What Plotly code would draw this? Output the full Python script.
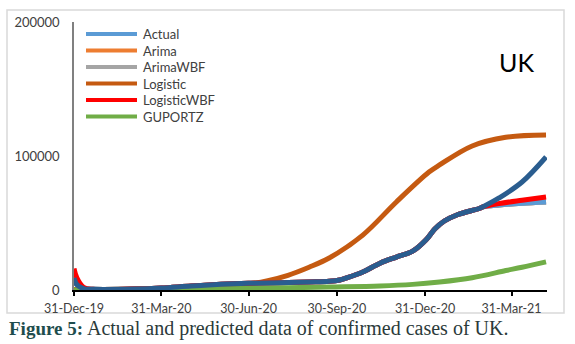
import plotly.graph_objects as go

# ---- data ----
dates_main = ["2019-12-31", "2020-01-03", "2020-01-10", "2020-01-20", "2020-03-01", "2020-03-31",
              "2020-05-01", "2020-06-01", "2020-06-30", "2020-08-01", "2020-09-01", "2020-09-22",
              "2020-10-03", "2020-10-10", "2020-10-27", "2020-11-14", "2020-12-01", "2020-12-18",
              "2021-01-01", "2021-01-10", "2021-01-20", "2021-02-02", "2021-02-26", "2021-03-01",
              "2021-03-18", "2021-04-11", "2021-05-06"]
actual_dark = [9000, 4000, 1000, 500, 700, 1500,
               3000, 4200, 5000, 5500, 6000, 6500,
               7500, 9000, 13400, 20000, 24600, 29000,
               37500, 45500, 51500, 56000, 61000, 62000,
               68700, 80600, 99300]
actual = [8000, 4000, 1000, 500, 700, 1500,
          3000, 4200, 5000, 5500, 6000, 6500,
          7500, 9000, 13400, 20000, 24600, 29000,
          37500, 45500, 51500, 56000, 61000, 62000,
          63500, 64800, 65700]
arima = actual
arima_wbf = actual
logistic_wbf = [16000, 9000, 2000, 500, 700, 1500,
                3000, 4200, 5000, 5500, 6000, 6500,
                7500, 9000, 13400, 20000, 24600, 29000,
                37500, 45500, 51500, 56000, 61000, 62000,
                64500, 67000, 69400]

dates_log = ["2019-12-31", "2020-03-31", "2020-06-01", "2020-06-30", "2020-07-20", "2020-08-10",
             "2020-09-01", "2020-09-22", "2020-10-27", "2020-12-01", "2021-01-04",
             "2021-01-15", "2021-02-18", "2021-03-25", "2021-05-06"]
logistic = [300, 1200, 3000, 4500, 7000, 11000,
            17000, 23900, 41000, 65700, 88000,
            93300, 107500, 114000, 115700]

dates_gp = ["2019-12-31", "2020-03-31", "2020-06-30", "2020-09-22", "2020-11-14", "2020-12-18",
            "2021-01-15", "2021-02-18", "2021-03-25", "2021-04-11", "2021-05-06"]
guportz = [0, 500, 1200, 2200, 3000, 4200, 6000, 9200, 14500, 17000, 21000]

tick_vals = ["2019-12-31", "2020-03-31", "2020-06-30", "2020-09-30", "2020-12-31", "2021-03-31"]
tick_text = ["31-Dec-19", "31-Mar-20", "30-Jun-20", "30-Sep-20", "31-Dec-20", "31-Mar-21"]
y_ticks = [0, 100000, 200000]

legend_names = ["Actual", "Arima", "ArimaWBF", "Logistic", "LogisticWBF", "GUPORTZ"]
legend_colors = ["#5B9BD5", "#ED7D31", "#A5A5A5", "#C55A11", "#FF0000", "#70AD47"]

# plot-area geometry in pixels (for placing non-data decorations)
L, R, T, B = 74, 547, 22, 290
PW, PH = R - L, B - T


def px(x):
    return (x - L) / PW


def py(y):
    return (B - y) / PH


W = 5
fig = go.Figure()
series = [
    (dates_main, arima, "Arima", "#ED7D31"),
    (dates_main, arima_wbf, "ArimaWBF", "#A5A5A5"),
    (dates_main, actual, "Actual", "#5B9BD5"),
    (dates_log, logistic, "Logistic", "#C55A11"),
    (dates_main, logistic_wbf, "LogisticWBF", "#FF0000"),
    (dates_gp, guportz, "GUPORTZ", "#70AD47"),
    (dates_main, actual_dark, "Actual (observed)", "#2A5D8F"),
]
for xs, ys, nm, col in series:
    fig.add_trace(go.Scatter(x=xs, y=ys, name=nm, mode="lines",
                             line=dict(color=col, width=W, shape="spline", smoothing=1.0),
                             showlegend=False))

fig.update_layout(
    width=575, height=344,
    margin=dict(l=L, r=575 - R, t=T, b=344 - B),
    paper_bgcolor="white", plot_bgcolor="white",
    font=dict(family="Lato", size=12, color="#404040"),
    showlegend=False,
    xaxis=dict(type="date", range=["2019-12-31", "2021-05-07"],
               tickvals=tick_vals, ticktext=tick_text,
               showgrid=False, zeroline=False,
               showline=True, linecolor="#000000", linewidth=2,
               ticks="outside", ticklen=4, tickwidth=2, tickcolor="#000000",
               ticklabelstandoff=2,
               tickfont=dict(family="Lato", size=12.5, color="#404040")),
    yaxis=dict(range=[0, 200000], tickvals=y_ticks, ticktext=["0", "100000", "200000"],
               showgrid=False, zeroline=False,
               showline=True, linecolor="#808080", linewidth=1.5,
               ticks="", ticklabelstandoff=10,
               tickfont=dict(family="Lato", size=13, color="#404040")),
)

# custom legend (Excel-style long line samples)
for i, (nm, col) in enumerate(zip(legend_names, legend_colors)):
    yy = 34 + i * 16.5
    fig.add_shape(type="line", xref="paper", yref="paper",
                  x0=px(86), x1=px(137), y0=py(yy), y1=py(yy),
                  line=dict(color=col, width=4))
    fig.add_annotation(text=nm, xref="paper", yref="paper", x=px(141), y=py(yy),
                       xanchor="left", yanchor="middle", showarrow=False,
                       font=dict(family="Lato", size=13, color="#404040"))

# outer chart border
fig.add_shape(type="rect", xref="paper", yref="paper",
              x0=px(7), x1=px(564), y0=py(313), y1=py(10),
              line=dict(color="#D9D9D9", width=1.5), fillcolor="rgba(0,0,0,0)", layer="below")

fig.add_annotation(text="UK", xref="paper", yref="paper", x=px(516), y=py(62),
                   xanchor="center", yanchor="middle",
                   showarrow=False, font=dict(family="Lato", size=25, color="#000000"))

fig.add_annotation(text="<b>Figure 5:</b><span style='color:#2b3a3a;font-size:20px'> Actual and predicted data of confirmed cases of UK.</span>",
                   xref="paper", yref="paper", x=px(7), y=py(328),
                   xanchor="left", yanchor="middle", showarrow=False,
                   font=dict(family="Liberation Serif", size=19, color="#1e4d4d"))

fig.write_html("out.html")
